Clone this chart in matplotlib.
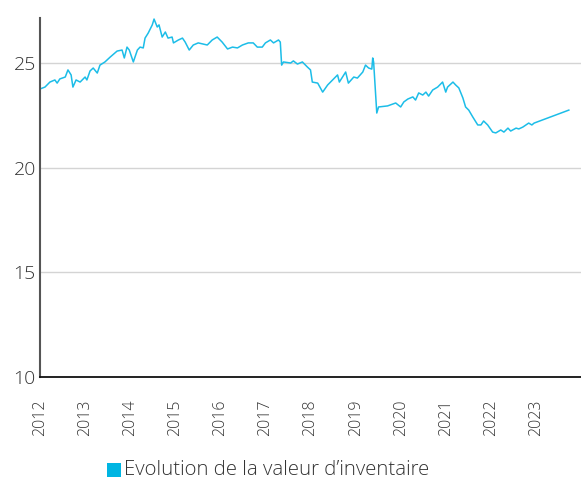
import matplotlib
matplotlib.use("Agg")
import matplotlib.pyplot as plt
from matplotlib.patches import Rectangle

# Net asset value history (fractional years, value)
years = [
    2012.00, 2012.11, 2012.22, 2012.33, 2012.38, 2012.44, 2012.56, 2012.62, 2012.69, 2012.73,
    2012.80, 2012.89, 2013.00, 2013.04, 2013.11, 2013.18, 2013.27, 2013.33, 2013.44, 2013.56,
    2013.71, 2013.82, 2013.87, 2013.93, 2013.98, 2014.07, 2014.16, 2014.22, 2014.29, 2014.33,
    2014.40, 2014.49, 2014.53, 2014.60, 2014.64, 2014.71, 2014.78, 2014.84, 2014.93, 2014.96,
    2015.07, 2015.16, 2015.22, 2015.31, 2015.40, 2015.51, 2015.71, 2015.82, 2015.93, 2016.04,
    2016.16, 2016.27, 2016.38, 2016.49, 2016.62, 2016.73, 2016.82, 2016.93, 2017.00, 2017.11,
    2017.18, 2017.29, 2017.33, 2017.36, 2017.40, 2017.56, 2017.62, 2017.71, 2017.82, 2017.93,
    2018.00, 2018.04, 2018.16, 2018.27, 2018.38, 2018.49, 2018.60, 2018.64, 2018.78, 2018.84,
    2018.96, 2019.04, 2019.16, 2019.22, 2019.29, 2019.36, 2019.38, 2019.40, 2019.47, 2019.51,
    2019.71, 2019.89, 2020.00, 2020.07, 2020.16, 2020.27, 2020.33, 2020.40, 2020.49, 2020.56,
    2020.62, 2020.71, 2020.82, 2020.93, 2021.00, 2021.04, 2021.16, 2021.22, 2021.29, 2021.38,
    2021.44, 2021.51, 2021.60, 2021.71, 2021.78, 2021.84, 2021.93, 2022.04, 2022.11, 2022.22,
    2022.29, 2022.38, 2022.44, 2022.56, 2022.62, 2022.71, 2022.78, 2022.84, 2022.91, 2022.96,
    2023.73,
]
values = [
    23.76, 23.85, 24.09, 24.19, 24.04, 24.24, 24.33, 24.67, 24.43, 23.85,
    24.19, 24.09, 24.33, 24.19, 24.62, 24.76, 24.52, 24.90, 25.05, 25.29,
    25.57, 25.62, 25.24, 25.76, 25.62, 25.05, 25.62, 25.76, 25.72, 26.19,
    26.43, 26.82, 27.10, 26.72, 26.82, 26.24, 26.48, 26.19, 26.24, 25.96,
    26.10, 26.19, 26.00, 25.62, 25.86, 25.96, 25.86, 26.10, 26.24, 26.00,
    25.67, 25.76, 25.72, 25.86, 25.96, 25.96, 25.76, 25.76, 25.96, 26.10,
    25.96, 26.10, 26.00, 24.90, 25.05, 25.00, 25.10, 24.95, 25.05, 24.81,
    24.67, 24.09, 24.04, 23.61, 23.95, 24.19, 24.43, 24.09, 24.57, 24.04,
    24.33, 24.28, 24.57, 24.90, 24.76, 24.71, 25.24, 25.05, 22.61, 22.90,
    22.95, 23.09, 22.90, 23.14, 23.28, 23.38, 23.23, 23.57, 23.47, 23.61,
    23.42, 23.71, 23.85, 24.09, 23.61, 23.85, 24.09, 23.95, 23.81, 23.33,
    22.90, 22.75, 22.42, 22.04, 22.04, 22.23, 22.04, 21.70, 21.66, 21.80,
    21.70, 21.89, 21.75, 21.89, 21.85, 21.94, 22.04, 22.13, 22.04, 22.13,
    22.75,
]

x_ticks = list(range(2012, 2024))
y_ticks = [10, 15, 20, 25]
legend_label = "Evolution de la valeur d’inventaire"

line_color = "#1cbde8"
text_color = "#333333"

plt.rcParams["font.family"] = ["Open Sans", "DejaVu Sans"]

fig = plt.figure(figsize=(5.81, 4.83), dpi=100)
ax = fig.add_axes([40 / 581, 1 - 377 / 483, 1 - 40 / 581, (377 - 18) / 483])

ax.plot(years, values, color=line_color, linewidth=1.1)

ax.set_xlim(2012, 2024)
ax.set_ylim(10, 27.15)
ax.set_xticks(x_ticks)
ax.set_xticklabels([str(y) for y in x_ticks], rotation=90, fontsize=11.5,
                   color=text_color, fontweight="light")
ax.set_yticks(y_ticks)
ax.set_yticklabels([str(v) for v in y_ticks], fontsize=14, color=text_color,
                   fontweight="light")
ax.tick_params(axis="x", length=0, pad=16)
ax.tick_params(axis="y", length=0, pad=3)

ax.grid(axis="y", color="#d4d4d4", linewidth=1)
ax.set_axisbelow(True)
for side in ("top", "right"):
    ax.spines[side].set_visible(False)
ax.spines["left"].set_color("#555555")
ax.spines["left"].set_linewidth(1.5)
ax.spines["bottom"].set_color("#111111")
ax.spines["bottom"].set_linewidth(1.3)

# Legend drawn as a filled square followed by its label
fig.patches.append(Rectangle((107 / 581, 1 - 477 / 483), 14 / 581, 14 / 483,
                             transform=fig.transFigure, facecolor="#00b5e2",
                             edgecolor="none"))
fig.text(124 / 581, 1 - 470 / 483, legend_label, fontsize=14.7, color=text_color,
         va="center", ha="left", fontweight="light")

fig.savefig("out.png", dpi=100)
